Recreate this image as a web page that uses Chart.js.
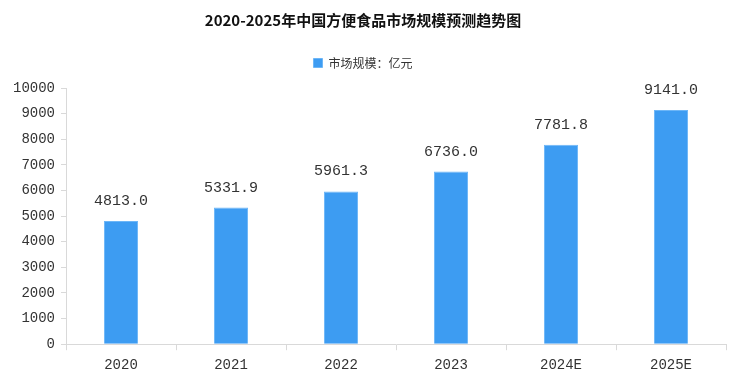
<!DOCTYPE html>
<html><head><meta charset="utf-8">
<script src="https://cdn.jsdelivr.net/npm/chart.js@4.4.1/dist/chart.umd.min.js"></script>
<style>html,body{margin:0;padding:0;background:#fff;}#wrap{width:733px;height:381px;}</style>
</head><body><div id="wrap"><canvas id="c" width="733" height="381"></canvas></div>
<script>
const categories = ['2020','2021','2022','2023','2024E','2025E'];
const marketSize = [4813.0, 5331.9, 5961.3, 6736.0, 7781.8, 9141.0];
const yTickStep = 1000;
const titleText = '2020-2025年中国方便食品市场规模预测趋势图';
const seriesName = '市场规模：亿元';

const labelPlugin = {
  id: 'valueLabels',
  afterDatasetsDraw(chart) {
    const ctx = chart.ctx;
    const meta = chart.getDatasetMeta(0);
    ctx.save();
    ctx.font = '15px "Liberation Mono", "DejaVu Sans Mono", monospace';
    ctx.fillStyle = '#333';
    ctx.textAlign = 'center';
    ctx.textBaseline = 'middle';
    meta.data.forEach((bar, i) => {
      ctx.fillText(marketSize[i].toFixed(1), bar.x, bar.y - 20);
    });
    ctx.restore();
  }
};

new Chart(document.getElementById('c'), {
  type: 'bar',
  data: {
    labels: categories,
    datasets: [{
      label: seriesName,
      data: marketSize,
      backgroundColor: '#3d9cf2',
      borderColor: '#6db6f7',
      borderWidth: 1,
      barPercentage: 0.62,
      categoryPercentage: 0.5
    }]
  },
  options: {
    responsive: false,
    animation: false,
    layout: { padding: { left: 0, right: 7, top: 11, bottom: 0 } },
    plugins: {
      title: {
        display: true,
        text: titleText,
        color: '#111',
        font: { family: '"Noto Sans CJK SC", sans-serif', size: 15, weight: 'bold' },
        padding: { top: 0, bottom: 20 }
      },
      legend: {
        display: true,
        labels: {
          boxWidth: 9, boxHeight: 9,
          color: '#333',
          font: { family: '"Noto Sans CJK SC", sans-serif', size: 12 },
          padding: 8
        }
      },
      tooltip: { enabled: false }
    },
    scales: {
      x: {
        grid: { display: true, drawOnChartArea: false, drawTicks: true, tickLength: 6, color: '#d9d9d9', offset: true },
        border: { display: true, color: '#d9d9d9' },
        ticks: { color: '#333', font: { family: '"Liberation Mono", monospace', size: 14 }, padding: 7 }
      },
      y: {
        min: 0, max: 10000,
        afterFit(s) { s.width = 66; },
        grid: { display: true, drawOnChartArea: false, drawTicks: true, tickLength: 5, color: '#d9d9d9' },
        border: { display: true, color: '#d9d9d9' },
        ticks: { stepSize: yTickStep, color: '#333', font: { family: '"Liberation Mono", monospace', size: 14 }, padding: 6,
          callback: (v) => String(v) }
      }
    }
  },
  plugins: [labelPlugin, {
    id: 'legendGap',
    afterInit(chart) {
      const lg = chart.legend;
      const origFit = lg.fit.bind(lg);
      lg.fit = function() { origFit(); this.height += 9; };
    }
  }]
});
</script></body></html>
